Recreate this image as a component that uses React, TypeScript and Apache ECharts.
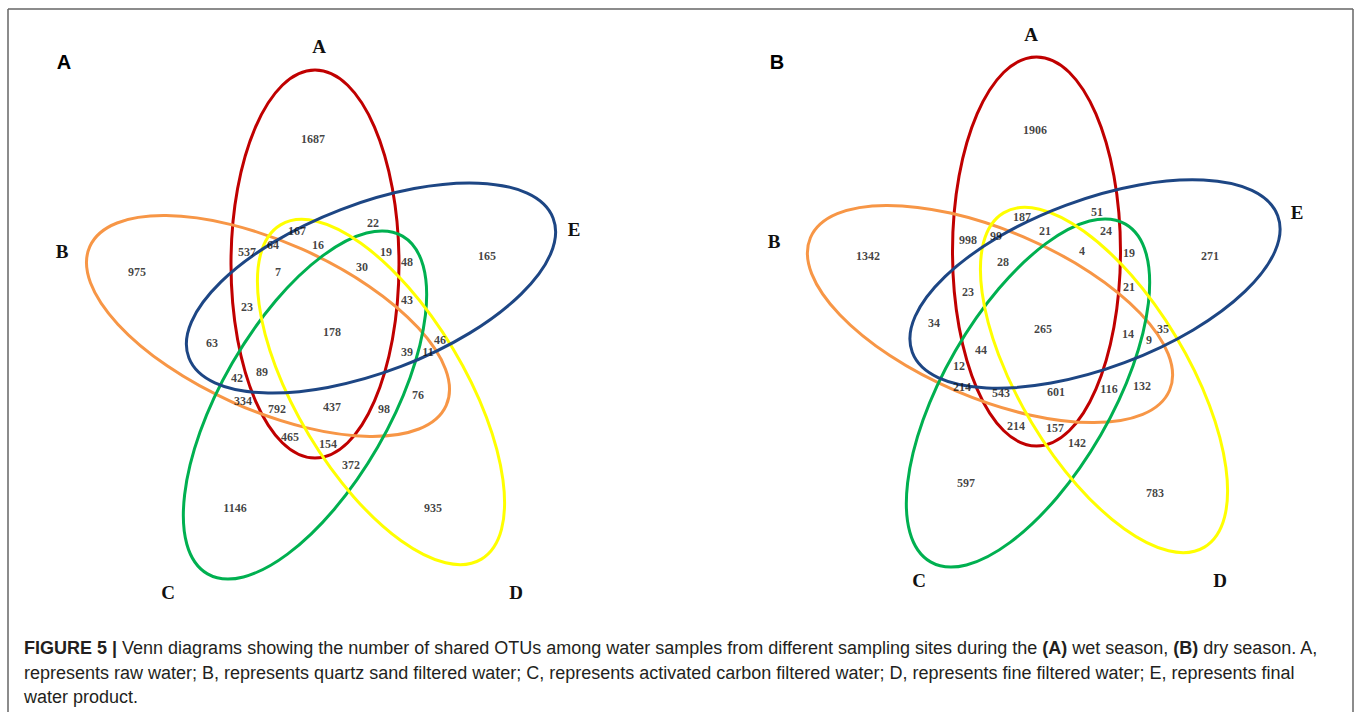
import { useEffect, useRef } from "react";
import * as echarts from "echarts";

// ---- Set names & colours ----
const setNames = ["A", "B", "C", "D", "E"];
const setColors = ["#C00000", "#F79646", "#00B050", "#FFFF00", "#1D4684"];

// ---- Region counts (31 regions, same region order in both panels) ----
const wetSeasonCounts = [
  1687, 975, 165, 1146, 935, 537, 64, 167, 16, 22, 19, 48, 7, 30, 23, 43,
  178, 63, 46, 39, 11, 42, 89, 334, 792, 437, 98, 76, 465, 154, 372,
];
const drySeasonCounts = [
  1906, 1342, 271, 597, 783, 998, 99, 187, 21, 51, 24, 19, 28, 4, 23, 21,
  265, 34, 35, 14, 9, 12, 44, 214, 543, 601, 116, 132, 214, 157, 142,
];

// ---- Layout (pixel space of the hidden grid) ----
const wetLabelPos = [
  [313, 139], [137, 272], [487, 256], [235, 508], [433, 508], [247, 252],
  [273, 245], [297, 231], [318, 245], [373, 223], [386, 252], [407, 262],
  [278, 272], [362, 267], [247, 307], [407, 300], [332, 332], [212, 343],
  [440, 340], [407, 352], [428, 352], [237, 378], [262, 372], [243, 401],
  [277, 409], [332, 407], [384, 409], [418, 395], [290, 437], [328, 444],
  [351, 465],
];
const dryLabelPos = [
  [1035, 130], [868, 256], [1210, 256], [966, 483], [1155, 493], [968, 240],
  [996, 236], [1022, 217], [1045, 231], [1097, 212], [1106, 231], [1129, 253],
  [1003, 262], [1082, 251], [968, 292], [1129, 287], [1043, 329], [934, 323],
  [1163, 329], [1128, 334], [1149, 340], [959, 366], [981, 350], [962, 387],
  [1001, 393], [1056, 392], [1109, 389], [1142, 386], [1016, 426], [1055, 428],
  [1077, 443],
];
// ellipse geometry per set (A,B,C,D,E): cx, cy, rx, ry, rotation(deg, ccw)
const wetEllipses = [
  [315, 264, 84, 194, 0],
  [268, 326, 195, 84, -24],
  [305, 405, 195, 84, 60],
  [381, 392, 195, 84, -59],
  [371, 288, 195, 84, 21],
];
const dryEllipses = [
  [1036.5, 251.5, 84, 194.5, 0],
  [990, 314, 195, 84, -23],
  [1028, 393, 195, 84, 60],
  [1104, 380, 195, 84, -59],
  [1095, 284, 195, 84, 20.5],
];
const wetSetLabelPos = [[319, 46], [62, 251], [168, 592], [516, 592], [574, 229]];
const drySetLabelPos = [[1031, 34], [774, 241], [919, 580], [1220, 580], [1297, 212]];
const panelLetters = ["A", "B"];

const captionLines = [
  "{b|FIGURE 5 |} Venn diagrams showing the number of shared OTUs among water samples from different sampling sites during the {b|(A)} wet season, {b|(B)} dry season. A,",
  "represents raw water; B, represents quartz sand filtered water; C, represents activated carbon filtered water; D, represents fine filtered water; E, represents final",
  "water product.",
];

export default function App() {
  const ref = useRef<HTMLDivElement>(null);
  useEffect(() => {
    if (!ref.current) return;
    const chart = echarts.init(ref.current, null, { renderer: "svg" });

    const ellipseData = [...wetEllipses, ...dryEllipses].map((e, i) => [
      e[0], e[1], e[2], e[3], e[4], i % 5,
    ]);
    const labelData = (pos: number[][], vals: number[]) =>
      vals.map((v, i) => [pos[i][0], pos[i][1], v]);

    const setLabelText = (pos: number[][]) =>
      pos.map((p, i) => ({
        type: "text",
        x: p[0],
        y: p[1],
        style: {
          text: setNames[i],
          fontFamily: "Liberation Serif",
          fontWeight: "bold",
          fontSize: 19,
          fill: "#111",
          align: "center",
          verticalAlign: "middle",
        },
      }));

    const option: any = {
      animation: false,
      backgroundColor: "#fff",
      grid: { left: 0, right: 0, top: 0, bottom: 0 },
      xAxis: { type: "value", min: 0, max: 1358, show: false },
      yAxis: { type: "value", min: 0, max: 712, inverse: true, show: false },
      series: [
        {
          type: "custom",
          data: ellipseData,
          silent: true,
          renderItem: (params: any, api: any) => {
            const c = api.coord([api.value(0), api.value(1)]);
            const o = api.coord([0, 0]);
            const s = api.coord([api.value(2), api.value(3)]);
            const rx = Math.abs(s[0] - o[0]);
            const ry = Math.abs(s[1] - o[1]);
            const idx = api.value(5);
            return {
              type: "ellipse",
              x: c[0],
              y: c[1],
              rotation: (api.value(4) * Math.PI) / 180,
              shape: { cx: 0, cy: 0, rx, ry },
              style: { fill: "none", stroke: setColors[idx], lineWidth: 3 },
            };
          },
        },
        ...[labelData(wetLabelPos, wetSeasonCounts), labelData(dryLabelPos, drySeasonCounts)].map(
          (d) => ({
            type: "scatter",
            data: d,
            symbolSize: 1,
            itemStyle: { color: "transparent" },
            silent: true,
            label: {
              show: true,
              position: "inside",
              formatter: (p: any) => String(p.value[2]),
              fontFamily: "Liberation Serif",
              fontWeight: "bold",
              fontSize: 12,
              color: "#111",
            },
          })
        ),
      ],
      graphic: [
        // frame
        { type: "line", shape: { x1: 8, y1: 9, x2: 1353, y2: 9 }, style: { stroke: "#666", lineWidth: 1.5 } },
        { type: "line", shape: { x1: 8, y1: 9, x2: 8, y2: 712 }, style: { stroke: "#666", lineWidth: 1.5 } },
        { type: "line", shape: { x1: 1353, y1: 9, x2: 1353, y2: 712 }, style: { stroke: "#666", lineWidth: 1.5 } },
        // panel letters
        ...panelLetters.map((t, i) => ({
          type: "text",
          x: i === 0 ? 64 : 777,
          y: 62,
          style: {
            text: t,
            fontFamily: "Liberation Sans",
            fontWeight: "bold",
            fontSize: 20,
            fill: "#000",
            align: "center",
            verticalAlign: "middle",
          },
        })),
        ...setLabelText(wetSetLabelPos),
        ...setLabelText(drySetLabelPos),
        // caption
        ...captionLines.map((t, i) => ({
          type: "text",
          x: 24,
          y: 648 + i * 24.5,
          style: {
            text: t,
            fontFamily: "Liberation Sans",
            fontSize: 18,
            fill: "#231F20",
            align: "left",
            verticalAlign: "middle",
            rich: {
              b: { fontFamily: "Liberation Sans", fontWeight: "bold", fontSize: 18, fill: "#231F20" },
            },
          },
        })),
      ],
    };
    chart.setOption(option);
    return () => chart.dispose();
  }, []);
  return (
    <div
      ref={ref}
      style={{ position: "fixed", left: 0, top: 0, width: 1358, height: 712 }}
    />
  );
}
